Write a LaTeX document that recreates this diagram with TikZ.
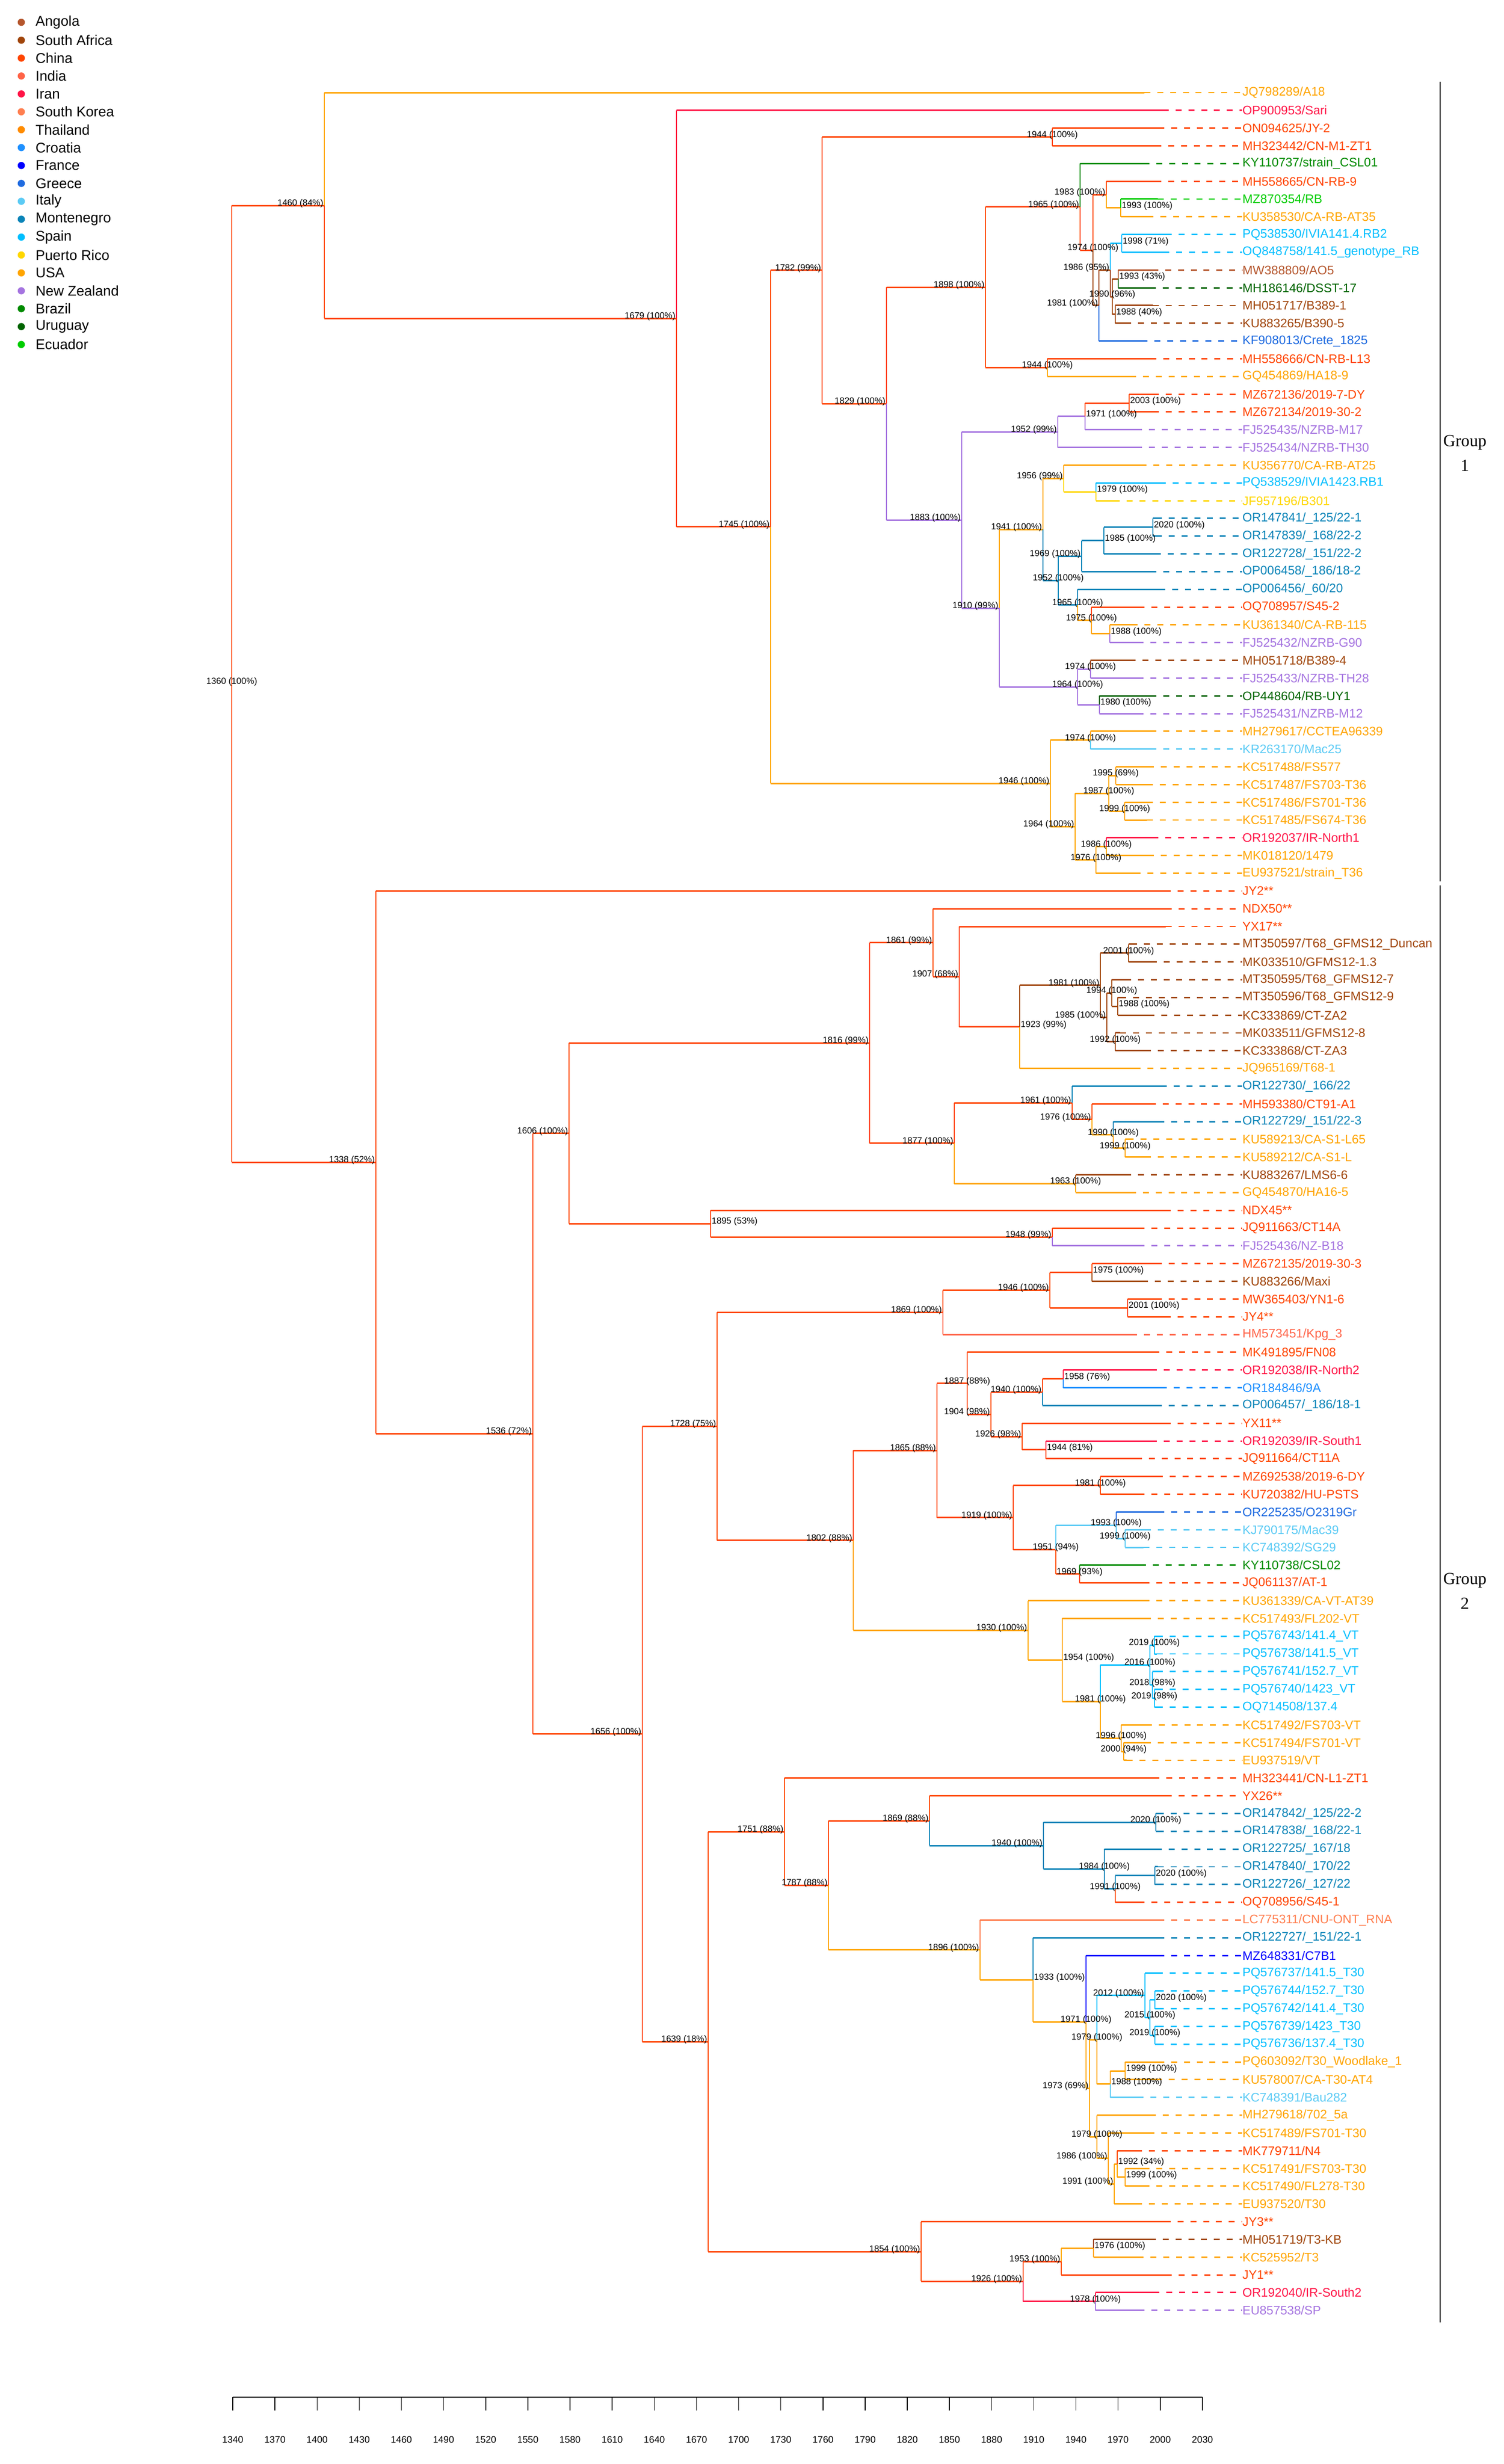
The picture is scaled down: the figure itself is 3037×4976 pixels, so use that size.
\documentclass[tikz,border=0pt]{standalone}
\usepackage{fontspec}
\setmainfont{Liberation Sans}
\newfontfamily\serifg{Liberation Serif}
\usetikzlibrary{calc}
\definecolor{angola}{HTML}{B5562D}
\definecolor{safrica}{HTML}{A0450A}
\definecolor{china}{HTML}{FF4500}
\definecolor{india}{HTML}{FF6347}
\definecolor{iran}{HTML}{FF1446}
\definecolor{skorea}{HTML}{FF7F50}
\definecolor{thai}{HTML}{FF8C00}
\definecolor{croatia}{HTML}{1E90FF}
\definecolor{france}{HTML}{0000FF}
\definecolor{greece}{HTML}{1F6BE0}
\definecolor{italy}{HTML}{5CCBF5}
\definecolor{monte}{HTML}{0A84B8}
\definecolor{spain}{HTML}{00BFFF}
\definecolor{prico}{HTML}{FFD700}
\definecolor{usa}{HTML}{FFA500}
\definecolor{nz}{HTML}{A574E0}
\definecolor{brazil}{HTML}{008B00}
\definecolor{uruguay}{HTML}{006400}
\definecolor{ecuador}{HTML}{00CD00}
\tikzset{
  hl/.style={line width=0.72pt},
  vl/.style={line width=0.48pt},
  lead/.style={line width=0.7pt, dash pattern=on 2.9pt off 3.3pt},
  leaf/.style={anchor=west, inner sep=0pt, font=\fontsize{6}{7}\selectfont},
  nlab/.style={inner sep=0.3pt, font=\fontsize{4.3}{5}\selectfont, text=black, yshift=1pt},
  legt/.style={anchor=west, inner sep=0pt, font=\fontsize{6.85}{8}\selectfont},
  axl/.style={inner sep=0pt, font=\fontsize{4.6}{5}\selectfont},
  grp/.style={align=center, inner sep=0pt, font=\serifg\fontsize{8.2}{12}\selectfont},
}
% leaf: index, tip x, colour, text
\newcommand\lf[4]{\coordinate (t#1) at (#2,#1);
  \node[leaf,text=#3] (L#1) at (2508,#1) {#4};
  \draw[lead,#3] (t#1) -- (L#1.west);}
% internal node: name, x, child1, child2
\newcommand\nd[4]{\coordinate (m#1) at ($(#3)!.5!(#4)$);
  \coordinate (x#1) at (#2,0);
  \coordinate (#1) at (x#1 |- m#1);}
% branches: parent, child1, col1, child2, col2
\newcommand\bb[5]{\draw[vl,#3] (#1) -- (#1 |- #2); \draw[hl,#3] (#1 |- #2) -- (#2);
  \draw[vl,#5] (#1) -- (#1 |- #4); \draw[hl,#5] (#1 |- #4) -- (#4);}
% node label: node, anchor, text
\newcommand\nl[3]{\node[nlab,anchor=#2] (lab#1) at (#1) {#3};}
\begin{document}
\begin{tikzpicture}[x=0.24pt,y=-0.24pt]
\useasboundingbox (0,0) rectangle (3037,4976);
\fill[white] (0,0) rectangle (3037,4976);
% legend
\foreach \n/\c [count=\i from 0] in {Angola/angola,South Africa/safrica,China/china,India/india,Iran/iran,South Korea/skorea,Thailand/thai,Croatia/croatia,France/france,Greece/greece,Italy/italy,Montenegro/monte,Spain/spain,Puerto Rico/prico,USA/usa,New Zealand/nz,Brazil/brazil,Uruguay/uruguay,Ecuador/ecuador}{
  \fill[\c] (43,{45+\i*36.15}) circle[radius=1.75pt];
  \node[legt] (leg\i) at (71,{45+\i*36.15}) {\n};
}
% axis
\draw[line width=0.55pt] (470,4841) -- (2428,4841);
\foreach \k [evaluate=\k as \yr using {int(1340+30*\k)}, evaluate=\k as \xx using {470+\k*85.13}] in {0,...,23}{
  \draw[line width=0.35pt] (\xx,4841) -- (\xx,4868);
  \node[axl] (ax\k) at (\xx,4927) {\yr};
}
% groups
\draw[line width=0.6pt] (2908,165) -- (2908,1780);
\draw[line width=0.6pt] (2908,1788) -- (2908,4690);
\node[grp] (g1) at (2958,915) {Group\\1};
\node[grp] (g2) at (2958,3213) {Group\\2};
\begin{scope}[y=-8.5992pt,yshift=-36.2808pt]
\lf{1}{2311}{usa}{JQ798289/A18}
\lf{2}{2348}{iran}{OP900953/Sari}
\lf{3}{2339}{china}{ON094625/JY-2}
\lf{4}{2333}{china}{MH323442/CN-M1-ZT1}
\lf{5}{2309}{brazil}{KY110737/strain\_CSL01}
\lf{6}{2333}{china}{MH558665/CN-RB-9}
\lf{7}{2338}{ecuador}{MZ870354/RB}
\lf{8}{2317}{usa}{KU358530/CA-RB-AT35}
\lf{9}{2354}{spain}{PQ538530/IVIA141.4.RB2}
\lf{10}{2349}{spain}{OQ848758/141.5\_genotype\_RB}
\lf{11}{2327}{angola}{MW388809/AO5}
\lf{12}{2322}{uruguay}{MH186146/DSST-17}
\lf{13}{2328}{safrica}{MH051717/B389-1}
\lf{14}{2272}{safrica}{KU883265/B390-5}
\lf{15}{2305}{greece}{KF908013/Crete\_1825}
\lf{16}{2323}{china}{MH558666/CN-RB-L13}
\lf{17}{2282}{usa}{GQ454869/HA18-9}
\lf{18}{2328}{china}{MZ672136/2019-7-DY}
\lf{19}{2328}{china}{MZ672134/2019-30-2}
\lf{20}{2294}{nz}{FJ525435/NZRB-M17}
\lf{21}{2294}{nz}{FJ525434/NZRB-TH30}
\lf{22}{2303}{usa}{KU356770/CA-RB-AT25}
\lf{23}{2342}{spain}{PQ538529/IVIA1423.RB1}
\lf{24}{2249}{prico}{JF957196/B301}
\lf{25}{2334}{monte}{OR147841/\_125/22-1}
\lf{26}{2334}{monte}{OR147839/\_168/22-2}
\lf{27}{2332}{monte}{OR122728/\_151/22-2}
\lf{28}{2323}{monte}{OP006458/\_186/18-2}
\lf{29}{2341}{monte}{OP006456/\_60/20}
\lf{30}{2299}{china}{OQ708957/S45-2}
\lf{31}{2285}{usa}{KU361340/CA-RB-115}
\lf{32}{2297}{nz}{FJ525432/NZRB-G90}
\lf{33}{2281}{safrica}{MH051718/B389-4}
\lf{34}{2297}{nz}{FJ525433/NZRB-TH28}
\lf{35}{2323}{uruguay}{OP448604/RB-UY1}
\lf{36}{2297}{nz}{FJ525431/NZRB-M12}
\lf{37}{2323}{usa}{MH279617/CCTEA96339}
\lf{38}{2323}{italy}{KR263170/Mac25}
\lf{39}{2318}{usa}{KC517488/FS577}
\lf{40}{2316}{usa}{KC517487/FS703-T36}
\lf{41}{2316}{usa}{KC517486/FS701-T36}
\lf{42}{2316}{usa}{KC517485/FS674-T36}
\lf{43}{2327}{iran}{OR192037/IR-North1}
\lf{44}{2318}{usa}{MK018120/1479}
\lf{45}{2291}{usa}{EU937521/strain\_T36}
\lf{46}{2352}{china}{JY2**}
\lf{47}{2354}{china}{NDX50**}
\lf{48}{2354}{china}{YX17**}
\lf{49}{2284}{safrica}{MT350597/T68\_GFMS12\_Duncan}
\lf{50}{2324}{safrica}{MK033510/GFMS12-1.3}
\lf{51}{2272}{safrica}{MT350595/T68\_GFMS12-7}
\lf{52}{2262}{safrica}{MT350596/T68\_GFMS12-9}
\lf{53}{2319}{safrica}{KC333869/CT-ZA2}
\lf{54}{2262}{safrica}{MK033511/GFMS12-8}
\lf{55}{2312}{safrica}{KC333868/CT-ZA3}
\lf{56}{2291}{usa}{JQ965169/T68-1}
\lf{57}{2344}{monte}{OR122730/\_166/22}
\lf{58}{2322}{china}{MH593380/CT91-A1}
\lf{59}{2339}{monte}{OR122729/\_151/22-3}
\lf{60}{2277}{usa}{KU589213/CA-S1-L65}
\lf{61}{2312}{usa}{KU589212/CA-S1-L}
\lf{62}{2272}{safrica}{KU883267/LMS6-6}
\lf{63}{2282}{usa}{GQ454870/HA16-5}
\lf{64}{2352}{china}{NDX45**}
\lf{65}{2299}{china}{JQ911663/CT14A}
\lf{66}{2299}{nz}{FJ525436/NZ-B18}
\lf{67}{2334}{china}{MZ672135/2019-30-3}
\lf{68}{2306}{safrica}{KU883266/Maxi}
\lf{69}{2334}{china}{MW365403/YN1-6}
\lf{70}{2352}{china}{JY4**}
\lf{71}{2284}{india}{HM573451/Kpg\_3}
\lf{72}{2329}{china}{MK491895/FN08}
\lf{73}{2324}{iran}{OR192038/IR-North2}
\lf{74}{2344}{croatia}{OR184846/9A}
\lf{75}{2334}{monte}{OP006457/\_186/18-1}
\lf{76}{2352}{china}{YX11**}
\lf{77}{2324}{iran}{OR192039/IR-South1}
\lf{78}{2294}{china}{JQ911664/CT11A}
\lf{79}{2336}{china}{MZ692538/2019-6-DY}
\lf{80}{2299}{china}{KU720382/HU-PSTS}
\lf{81}{2339}{greece}{OR225235/O2319Gr}
\lf{82}{2312}{italy}{KJ790175/Mac39}
\lf{83}{2309}{italy}{KC748392/SG29}
\lf{84}{2302}{brazil}{KY110738/CSL02}
\lf{85}{2309}{china}{JQ061137/AT-1}
\lf{86}{2309}{usa}{KU361339/CA-VT-AT39}
\lf{87}{2312}{usa}{KC517493/FL202-VT}
\lf{88}{2336}{spain}{PQ576743/141.4\_VT}
\lf{89}{2336}{spain}{PQ576738/141.5\_VT}
\lf{90}{2336}{spain}{PQ576741/152.7\_VT}
\lf{91}{2336}{spain}{PQ576740/1423\_VT}
\lf{92}{2336}{spain}{OQ714508/137.4}
\lf{93}{2314}{usa}{KC517492/FS703-VT}
\lf{94}{2312}{usa}{KC517494/FS701-VT}
\lf{95}{2275}{usa}{EU937519/VT}
\lf{96}{2329}{china}{MH323441/CN-L1-ZT1}
\lf{97}{2354}{china}{YX26**}
\lf{98}{2338}{monte}{OR147842/\_125/22-2}
\lf{99}{2338}{monte}{OR147838/\_168/22-1}
\lf{100}{2334}{monte}{OR122725/\_167/18}
\lf{101}{2338}{monte}{OR147840/\_170/22}
\lf{102}{2338}{monte}{OR122726/\_127/22}
\lf{103}{2299}{china}{OQ708956/S45-1}
\lf{104}{2339}{skorea}{LC775311/CNU-ONT\_RNA}
\lf{105}{2339}{monte}{OR122727/\_151/22-1}
\lf{106}{2339}{france}{MZ648331/C7B1}
\lf{107}{2336}{spain}{PQ576737/141.5\_T30}
\lf{108}{2338}{spain}{PQ576744/152.7\_T30}
\lf{109}{2338}{spain}{PQ576742/141.4\_T30}
\lf{110}{2338}{spain}{PQ576739/1423\_T30}
\lf{111}{2338}{spain}{PQ576736/137.4\_T30}
\lf{112}{2339}{usa}{PQ603092/T30\_Woodlake\_1}
\lf{113}{2334}{usa}{KU578007/CA-T30-AT4}
\lf{114}{2297}{italy}{KC748391/Bau282}
\lf{115}{2322}{usa}{MH279618/702\_5a}
\lf{116}{2319}{usa}{KC517489/FS701-T30}
\lf{117}{2294}{china}{MK779711/N4}
\lf{118}{2309}{usa}{KC517491/FS703-T30}
\lf{119}{2309}{usa}{KC517490/FL278-T30}
\lf{120}{2294}{usa}{EU937520/T30}
\lf{121}{2352}{china}{JY3**}
\lf{122}{2322}{safrica}{MH051719/T3-KB}
\lf{123}{2297}{usa}{KC525952/T3}
\lf{124}{2354}{china}{JY1**}
\lf{125}{2329}{iran}{OR192040/IR-South2}
\lf{126}{2299}{nz}{EU857538/SP}
% ---- internal nodes, group 1
\nd{N1944a}{2125}{t3}{t4}
\nd{N1993a}{2263}{t7}{t8}
\nd{N1983}{2234}{t6}{N1993a}
\nd{N1998}{2265}{t9}{t10}
\nd{N1993b}{2258}{t11}{t12}
\nd{N1988}{2252}{t13}{t14}
\nd{N1990}{2246}{N1993b}{N1988}
\nd{N1986}{2242}{N1998}{N1990}
\nd{N1981}{2219}{N1986}{t15}
\nd{N1974}{2207}{N1983}{N1981}
\nd{N1965}{2181}{t5}{N1974}
\nd{N1944b}{2115}{t16}{t17}
\nd{N1898}{1990}{N1965}{N1944b}
\nd{N2003}{2280}{t18}{t19}
\nd{N1971}{2191}{N2003}{t20}
\nd{N1952}{2136}{N1971}{t21}
\nd{N1979}{2213}{t23}{t24}
\nd{N1956}{2148}{t22}{N1979}
\nd{N2020}{2328}{t25}{t26}
\nd{N1985}{2229}{N2020}{t27}
\nd{N1969}{2184}{N1985}{t28}
\nd{N1988b}{2241}{t31}{t32}
\nd{N1975}{2204}{t30}{N1988b}
\nd{N1965b}{2176}{t29}{N1975}
\nd{N1952b}{2137}{N1969}{N1965b}
\nd{N1941}{2106}{N1956}{N1952b}
\nd{N1974p}{2202}{t33}{t34}
\nd{N1980}{2220}{t35}{t36}
\nd{N1964p}{2176}{N1974p}{N1980}
\nd{N1910}{2018}{N1941}{N1964p}
\nd{N1883}{1942}{N1952}{N1910}
\nd{N1829}{1790}{N1898}{N1883}
\nd{N1782}{1660}{N1944a}{N1829}
\nd{N1974u}{2202}{t37}{t38}
\nd{N1995}{2253}{t39}{t40}
\nd{N1999}{2271}{t41}{t42}
\nd{N1987}{2239}{N1995}{N1999}
\nd{N1986u}{2234}{t43}{t44}
\nd{N1976}{2213}{N1986u}{t45}
\nd{N1964u}{2171}{N1987}{N1976}
\nd{N1946}{2121}{N1974u}{N1964u}
\nd{N1745}{1556}{N1782}{N1946}
\nd{N1679}{1366}{t2}{N1745}
\nd{N1460}{655}{t1}{N1679}
% ---- group 2
\nd{N2001}{2279}{t49}{t50}
\nd{N1988s}{2257}{t52}{t53}
\nd{N1994}{2245}{t51}{N1988s}
\nd{N1992}{2252}{t54}{t55}
\nd{N1985s}{2235}{N1994}{N1992}
\nd{N1981s}{2222}{N2001}{N1985s}
\nd{N1923}{2059}{N1981s}{t56}
\nd{N1907}{1937}{t48}{N1923}
\nd{N1861}{1884}{t47}{N1907}
\nd{N1999s}{2272}{t60}{t61}
\nd{N1990s}{2248}{t59}{N1999s}
\nd{N1976s}{2205}{t58}{N1990s}
\nd{N1961}{2165}{t57}{N1976s}
\nd{N1963}{2172}{t62}{t63}
\nd{N1877}{1927}{N1961}{N1963}
\nd{N1816}{1756}{N1861}{N1877}
\nd{N1948}{2125}{t65}{t66}
\nd{N1895}{1435}{t64}{N1948}
\nd{N1606}{1149}{N1816}{N1895}
\nd{N1975s}{2205}{t67}{t68}
\nd{N2001s}{2277}{t69}{t70}
\nd{N1946s}{2120}{N1975s}{N2001s}
\nd{N1869}{1904}{N1946s}{t71}
\nd{N1958}{2147}{t73}{t74}
\nd{N1940s}{2105}{N1958}{t75}
\nd{N1944s}{2112}{t77}{t78}
\nd{N1926}{2064}{t76}{N1944s}
\nd{N1904}{2001}{N1940s}{N1926}
\nd{N1887}{1953}{t72}{N1904}
\nd{N1981b}{2222}{t79}{t80}
\nd{N1999i}{2272}{t82}{t83}
\nd{N1993s}{2254}{t81}{N1999i}
\nd{N1969s}{2180}{t84}{t85}
\nd{N1951}{2132}{N1993s}{N1969s}
\nd{N1919}{2046}{N1981b}{N1951}
\nd{N1865}{1892}{N1887}{N1919}
\nd{N2019a}{2331}{t88}{t89}
\nd{N2019b}{2331}{t91}{t92}
\nd{N2018}{2327}{t90}{N2019b}
\nd{N2016}{2322}{N2019a}{N2018}
\nd{N2000}{2269}{t94}{t95}
\nd{N1996}{2264}{t93}{N2000}
\nd{N1981v}{2222}{N2016}{N1996}
\nd{N1954}{2145}{t87}{N1981v}
\nd{N1930}{2076}{t86}{N1954}
\nd{N1802}{1723}{N1865}{N1930}
\nd{N1728}{1448}{N1869}{N1802}
\nd{N2020b}{2334}{t98}{t99}
\nd{N2020c}{2332}{t101}{t102}
\nd{N1991b}{2252}{N2020c}{t103}
\nd{N1984}{2230}{t100}{N1991b}
\nd{N1940b}{2107}{N2020b}{N1984}
\nd{N1869b}{1877}{t97}{N1940b}
\nd{N2020t}{2332}{t108}{t109}
\nd{N2019t}{2332}{t110}{t111}
\nd{N2015}{2322}{N2020t}{N2019t}
\nd{N2012}{2312}{t107}{N2015}
\nd{N1999t}{2272}{t112}{t113}
\nd{N1988t}{2242}{N1999t}{t114}
\nd{N1979t}{2215}{N2012}{N1988t}
\nd{N1999u}{2272}{t118}{t119}
\nd{N1992u}{2256}{t117}{N1999u}
\nd{N1991}{2250}{N1992u}{t120}
\nd{N1986v}{2238}{t116}{N1991}
\nd{N1979u}{2215}{t115}{N1986v}
\nd{N1973}{2200}{N1979t}{N1979u}
\nd{N1971t}{2193}{t106}{N1973}
\nd{N1933}{2086}{t105}{N1971t}
\nd{N1896}{1979}{t104}{N1933}
\nd{N1787}{1673}{N1869b}{N1896}
\nd{N1751}{1584}{t96}{N1787}
\nd{N1976t}{2208}{t122}{t123}
\nd{N1953}{2143}{N1976t}{t124}
\nd{N1978}{2212}{t125}{t126}
\nd{N1926b}{2066}{N1953}{N1978}
\nd{N1854}{1860}{t121}{N1926b}
\nd{N1639}{1430}{N1751}{N1854}
\nd{N1656}{1297}{N1728}{N1639}
\nd{N1536}{1076}{N1606}{N1656}
\nd{N1338}{759}{t46}{N1536}
\nd{R}{468}{N1460}{N1338}
% ---- branches
\bb{R}{N1460}{china}{N1338}{china}
\bb{N1460}{t1}{usa}{N1679}{china}
\bb{N1679}{t2}{iran}{N1745}{china}
\bb{N1745}{N1782}{china}{N1946}{usa}
\bb{N1782}{N1944a}{china}{N1829}{china}
\bb{N1944a}{t3}{china}{t4}{china}
\bb{N1829}{N1898}{china}{N1883}{nz}
\bb{N1898}{N1965}{china}{N1944b}{china}
\bb{N1965}{t5}{brazil}{N1974}{china}
\bb{N1974}{N1983}{china}{N1981}{safrica}
\bb{N1983}{t6}{china}{N1993a}{usa}
\bb{N1993a}{t7}{ecuador}{t8}{usa}
\bb{N1981}{N1986}{safrica}{t15}{greece}
\bb{N1986}{N1998}{spain}{N1990}{safrica}
\bb{N1998}{t9}{spain}{t10}{spain}
\bb{N1990}{N1993b}{safrica}{N1988}{safrica}
\bb{N1993b}{t11}{angola}{t12}{uruguay}
\bb{N1988}{t13}{safrica}{t14}{safrica}
\bb{N1944b}{t16}{china}{t17}{usa}
\bb{N1883}{N1952}{nz}{N1910}{nz}
\bb{N1952}{N1971}{nz}{t21}{nz}
\bb{N1971}{N2003}{china}{t20}{nz}
\bb{N2003}{t18}{china}{t19}{china}
\bb{N1910}{N1941}{usa}{N1964p}{nz}
\bb{N1941}{N1956}{usa}{N1952b}{monte}
\bb{N1956}{t22}{usa}{N1979}{prico}
\bb{N1979}{t23}{spain}{t24}{prico}
\bb{N1952b}{N1969}{monte}{N1965b}{monte}
\bb{N1969}{N1985}{monte}{t28}{monte}
\bb{N1985}{N2020}{monte}{t27}{monte}
\bb{N2020}{t25}{monte}{t26}{monte}
\bb{N1965b}{t29}{monte}{N1975}{usa}
\bb{N1975}{t30}{china}{N1988b}{usa}
\bb{N1988b}{t31}{usa}{t32}{nz}
\bb{N1964p}{N1974p}{nz}{N1980}{nz}
\bb{N1974p}{t33}{safrica}{t34}{nz}
\bb{N1980}{t35}{uruguay}{t36}{nz}
\bb{N1946}{N1974u}{usa}{N1964u}{usa}
\bb{N1974u}{t37}{usa}{t38}{italy}
\bb{N1964u}{N1987}{usa}{N1976}{usa}
\bb{N1987}{N1995}{usa}{N1999}{usa}
\bb{N1995}{t39}{usa}{t40}{usa}
\bb{N1999}{t41}{usa}{t42}{usa}
\bb{N1976}{N1986u}{usa}{t45}{usa}
\bb{N1986u}{t43}{iran}{t44}{usa}
\bb{N1338}{t46}{china}{N1536}{china}
\bb{N1536}{N1606}{china}{N1656}{china}
\bb{N1606}{N1816}{china}{N1895}{china}
\bb{N1816}{N1861}{china}{N1877}{china}
\bb{N1861}{t47}{china}{N1907}{china}
\bb{N1907}{t48}{china}{N1923}{china}
\bb{N1923}{N1981s}{safrica}{t56}{usa}
\bb{N1981s}{N2001}{safrica}{N1985s}{safrica}
\bb{N2001}{t49}{safrica}{t50}{safrica}
\bb{N1985s}{N1994}{safrica}{N1992}{safrica}
\bb{N1994}{t51}{safrica}{N1988s}{safrica}
\bb{N1988s}{t52}{safrica}{t53}{safrica}
\bb{N1992}{t54}{safrica}{t55}{safrica}
\bb{N1877}{N1961}{china}{N1963}{usa}
\bb{N1961}{t57}{monte}{N1976s}{china}
\bb{N1976s}{t58}{china}{N1990s}{usa}
\bb{N1990s}{t59}{monte}{N1999s}{usa}
\bb{N1999s}{t60}{usa}{t61}{usa}
\bb{N1963}{t62}{safrica}{t63}{usa}
\bb{N1895}{t64}{china}{N1948}{china}
\bb{N1948}{t65}{china}{t66}{nz}
\bb{N1656}{N1728}{china}{N1639}{china}
\bb{N1728}{N1869}{china}{N1802}{china}
\bb{N1869}{N1946s}{china}{t71}{india}
\bb{N1946s}{N1975s}{china}{N2001s}{china}
\bb{N1975s}{t67}{china}{t68}{safrica}
\bb{N2001s}{t69}{china}{t70}{china}
\bb{N1802}{N1865}{china}{N1930}{usa}
\bb{N1865}{N1887}{china}{N1919}{china}
\bb{N1887}{t72}{china}{N1904}{china}
\bb{N1904}{N1940s}{china}{N1926}{china}
\bb{N1940s}{N1958}{china}{t75}{monte}
\bb{N1958}{t73}{iran}{t74}{croatia}
\bb{N1926}{t76}{china}{N1944s}{china}
\bb{N1944s}{t77}{iran}{t78}{china}
\bb{N1919}{N1981b}{china}{N1951}{china}
\bb{N1981b}{t79}{china}{t80}{china}
\bb{N1951}{N1993s}{italy}{N1969s}{china}
\bb{N1993s}{t81}{greece}{N1999i}{italy}
\bb{N1999i}{t82}{italy}{t83}{italy}
\bb{N1969s}{t84}{brazil}{t85}{china}
\bb{N1930}{t86}{usa}{N1954}{usa}
\bb{N1954}{t87}{usa}{N1981v}{usa}
\bb{N1981v}{N2016}{spain}{N1996}{usa}
\bb{N2016}{N2019a}{spain}{N2018}{spain}
\bb{N2019a}{t88}{spain}{t89}{spain}
\bb{N2018}{t90}{spain}{N2019b}{spain}
\bb{N2019b}{t91}{spain}{t92}{spain}
\bb{N1996}{t93}{usa}{N2000}{usa}
\bb{N2000}{t94}{usa}{t95}{usa}
\bb{N1639}{N1751}{china}{N1854}{china}
\bb{N1751}{t96}{china}{N1787}{china}
\bb{N1787}{N1869b}{china}{N1896}{usa}
\bb{N1869b}{t97}{china}{N1940b}{monte}
\bb{N1940b}{N2020b}{monte}{N1984}{monte}
\bb{N2020b}{t98}{monte}{t99}{monte}
\bb{N1984}{t100}{monte}{N1991b}{monte}
\bb{N1991b}{N2020c}{monte}{t103}{china}
\bb{N2020c}{t101}{monte}{t102}{monte}
\bb{N1896}{t104}{skorea}{N1933}{usa}
\bb{N1933}{t105}{monte}{N1971t}{usa}
\bb{N1971t}{t106}{france}{N1973}{usa}
\bb{N1973}{N1979t}{usa}{N1979u}{usa}
\bb{N1979t}{N2012}{spain}{N1988t}{usa}
\bb{N2012}{t107}{spain}{N2015}{spain}
\bb{N2015}{N2020t}{spain}{N2019t}{spain}
\bb{N2020t}{t108}{spain}{t109}{spain}
\bb{N2019t}{t110}{spain}{t111}{spain}
\bb{N1988t}{N1999t}{usa}{t114}{italy}
\bb{N1999t}{t112}{usa}{t113}{usa}
\bb{N1979u}{t115}{usa}{N1986v}{usa}
\bb{N1986v}{t116}{usa}{N1991}{usa}
\bb{N1991}{N1992u}{usa}{t120}{usa}
\bb{N1992u}{t117}{china}{N1999u}{usa}
\bb{N1999u}{t118}{usa}{t119}{usa}
\bb{N1854}{t121}{china}{N1926b}{china}
\bb{N1926b}{N1953}{china}{N1978}{iran}
\bb{N1953}{N1976t}{usa}{t124}{china}
\bb{N1976t}{t122}{safrica}{t123}{usa}
\bb{N1978}{t125}{iran}{t126}{nz}
% ---- node labels
\nl{R}{center}{1360 (100\%)}
\nl{N1460}{east}{1460 (84\%)}
\nl{N1679}{east}{1679 (100\%)}
\nl{N1745}{east}{1745 (100\%)}
\nl{N1782}{east}{1782 (99\%)}
\nl{N1944a}{center}{1944 (100\%)}
\nl{N1829}{east}{1829 (100\%)}
\nl{N1898}{east}{1898 (100\%)}
\nl{N1965}{east}{1965 (100\%)}
\nl{N1974}{center}{1974 (100\%)}
\nl{N1983}{east}{1983 (100\%)}
\nl{N1993a}{west}{1993 (100\%)}
\nl{N1981}{east}{1981 (100\%)}
\nl{N1986}{east}{1986 (95\%)}
\nl{N1998}{west}{1998 (71\%)}
\nl{N1990}{center}{1990 (96\%)}
\nl{N1993b}{west}{1993 (43\%)}
\nl{N1988}{west}{1988 (40\%)}
\nl{N1944b}{center}{1944 (100\%)}
\nl{N1883}{east}{1883 (100\%)}
\nl{N1952}{east}{1952 (99\%)}
\nl{N1971}{west}{1971 (100\%)}
\nl{N2003}{west}{2003 (100\%)}
\nl{N1910}{east}{1910 (99\%)}
\nl{N1941}{east}{1941 (100\%)}
\nl{N1956}{east}{1956 (99\%)}
\nl{N1979}{west}{1979 (100\%)}
\nl{N1952b}{center}{1952 (100\%)}
\nl{N1969}{east}{1969 (100\%)}
\nl{N1985}{west}{1985 (100\%)}
\nl{N2020}{west}{2020 (100\%)}
\nl{N1965b}{center}{1965 (100\%)}
\nl{N1975}{center}{1975 (100\%)}
\nl{N1988b}{west}{1988 (100\%)}
\nl{N1964p}{center}{1964 (100\%)}
\nl{N1974p}{center}{1974 (100\%)}
\nl{N1980}{west}{1980 (100\%)}
\nl{N1946}{east}{1946 (100\%)}
\nl{N1974u}{center}{1974 (100\%)}
\nl{N1964u}{east}{1964 (100\%)}
\nl{N1987}{center}{1987 (100\%)}
\nl{N1995}{center}{1995 (69\%)}
\nl{N1999}{center}{1999 (100\%)}
\nl{N1976}{center}{1976 (100\%)}
\nl{N1986u}{center}{1986 (100\%)}
\nl{N1338}{east}{1338 (52\%)}
\nl{N1536}{east}{1536 (72\%)}
\nl{N1606}{east}{1606 (100\%)}
\nl{N1816}{east}{1816 (99\%)}
\nl{N1861}{east}{1861 (99\%)}
\nl{N1907}{east}{1907 (68\%)}
\nl{N1923}{west}{1923 (99\%)}
\nl{N1981s}{east}{1981 (100\%)}
\nl{N2001}{center}{2001 (100\%)}
\nl{N1985s}{east}{1985 (100\%)}
\nl{N1994}{center}{1994 (100\%)}
\nl{N1988s}{west}{1988 (100\%)}
\nl{N1992}{center}{1992 (100\%)}
\nl{N1877}{east}{1877 (100\%)}
\nl{N1961}{east}{1961 (100\%)}
\nl{N1976s}{east}{1976 (100\%)}
\nl{N1990s}{center}{1990 (100\%)}
\nl{N1999s}{center}{1999 (100\%)}
\nl{N1963}{center}{1963 (100\%)}
\nl{N1895}{west}{1895 (53\%)}
\nl{N1948}{east}{1948 (99\%)}
\nl{N1656}{east}{1656 (100\%)}
\nl{N1728}{east}{1728 (75\%)}
\nl{N1869}{east}{1869 (100\%)}
\nl{N1946s}{east}{1946 (100\%)}
\nl{N1975s}{west}{1975 (100\%)}
\nl{N2001s}{west}{2001 (100\%)}
\nl{N1802}{east}{1802 (88\%)}
\nl{N1865}{east}{1865 (88\%)}
\nl{N1887}{center}{1887 (88\%)}
\nl{N1904}{east}{1904 (98\%)}
\nl{N1940s}{east}{1940 (100\%)}
\nl{N1958}{west}{1958 (76\%)}
\nl{N1926}{east}{1926 (98\%)}
\nl{N1944s}{west}{1944 (81\%)}
\nl{N1919}{east}{1919 (100\%)}
\nl{N1981b}{center}{1981 (100\%)}
\nl{N1951}{center}{1951 (94\%)}
\nl{N1993s}{center}{1993 (100\%)}
\nl{N1999i}{center}{1999 (100\%)}
\nl{N1969s}{center}{1969 (93\%)}
\nl{N1930}{east}{1930 (100\%)}
\nl{N1954}{west}{1954 (100\%)}
\nl{N1981v}{center}{1981 (100\%)}
\nl{N2016}{center}{2016 (100\%)}
\nl{N2019a}{center}{2019 (100\%)}
\nl{N2018}{center}{2018 (98\%)}
\nl{N2019b}{center}{2019 (98\%)}
\nl{N1996}{center}{1996 (100\%)}
\nl{N2000}{center}{2000 (94\%)}
\nl{N1639}{east}{1639 (18\%)}
\nl{N1751}{east}{1751 (88\%)}
\nl{N1787}{east}{1787 (88\%)}
\nl{N1869b}{east}{1869 (88\%)}
\nl{N1940b}{east}{1940 (100\%)}
\nl{N2020b}{center}{2020 (100\%)}
\nl{N1984}{center}{1984 (100\%)}
\nl{N1991b}{center}{1991 (100\%)}
\nl{N2020c}{west}{2020 (100\%)}
\nl{N1896}{east}{1896 (100\%)}
\nl{N1933}{west}{1933 (100\%)}
\nl{N1971t}{center}{1971 (100\%)}
\nl{N1973}{east}{1973 (69\%)}
\nl{N1979t}{center}{1979 (100\%)}
\nl{N2012}{east}{2012 (100\%)}
\nl{N2015}{center}{2015 (100\%)}
\nl{N2020t}{west}{2020 (100\%)}
\nl{N2019t}{center}{2019 (100\%)}
\nl{N1988t}{west}{1988 (100\%)}
\nl{N1999t}{west}{1999 (100\%)}
\nl{N1979u}{center}{1979 (100\%)}
\nl{N1986v}{east}{1986 (100\%)}
\nl{N1991}{east}{1991 (100\%)}
\nl{N1992u}{west}{1992 (34\%)}
\nl{N1999u}{west}{1999 (100\%)}
\nl{N1854}{east}{1854 (100\%)}
\nl{N1926b}{east}{1926 (100\%)}
\nl{N1953}{east}{1953 (100\%)}
\nl{N1976t}{west}{1976 (100\%)}
\nl{N1978}{center}{1978 (100\%)}
\end{scope}
\end{tikzpicture}
\end{document}
